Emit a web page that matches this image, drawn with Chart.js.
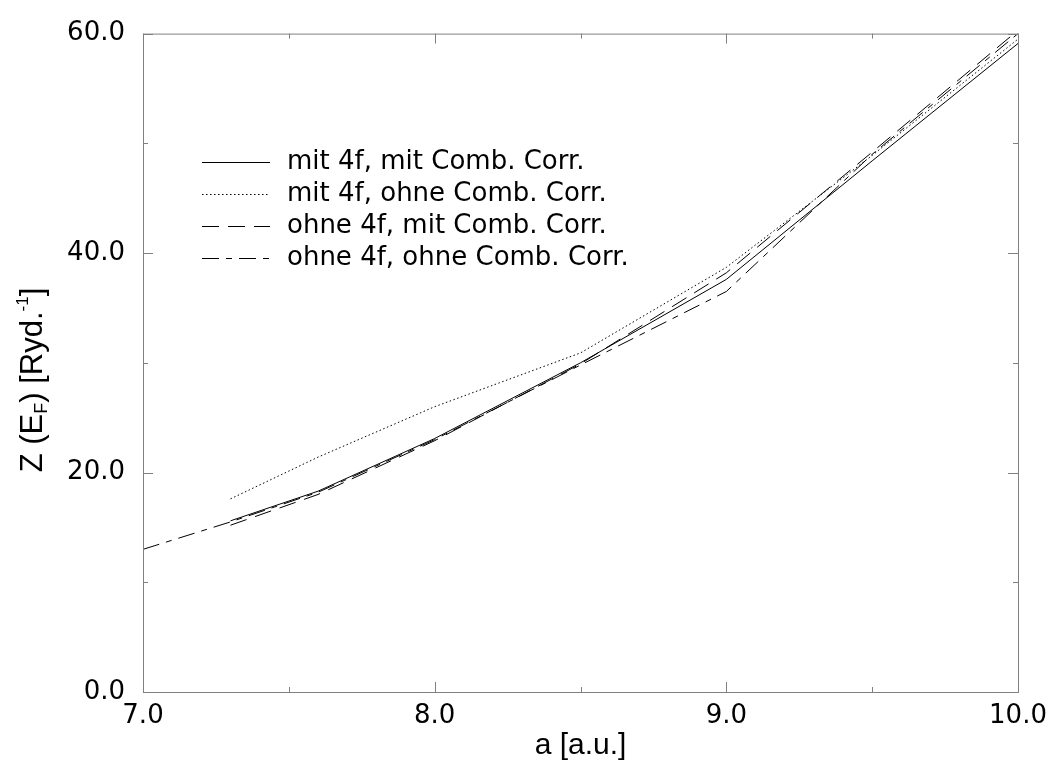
<!DOCTYPE html>
<html>
<head>
<meta charset="utf-8">
<script src="https://cdn.jsdelivr.net/npm/chart.js@4/dist/chart.umd.min.js"></script>
<style>
  html, body { margin: 0; padding: 0; background: #fff; }
  #grafica { display: block; }
</style>
</head>
<body>
<canvas id="grafica" width="1049" height="767"></canvas>
<script>
// Densidad de estados en el nivel de Fermi Z(E_F) contra el parametro de red a

// Parametro de red (a.u.)
var aComun = [7.3, 7.6, 8.0, 8.5, 9.0, 9.5, 10.0];
var aOhneOhne = [7.0, 7.3, 7.6, 8.0, 8.5, 9.0, 9.5, 10.0];

// Z(E_F) en Ryd.^-1
var zMitMit = [15.6, 18.3, 23.1, 30.0, 37.6, 48.4, 59.1];
var zMitOhne = [17.6, 21.4, 26.0, 30.9, 38.7, 48.9, 59.5];
var zOhneMit = [15.2, 18.0, 22.9, 29.9, 38.2, 49.2, 60.3];
var zOhneOhne = [13.0, 15.5, 18.2, 23.0, 29.8, 36.5, 49.0, 60.0];

var nombres = [
    'mit 4f, mit Comb. Corr.',
    'mit 4f, ohne Comb. Corr.',
    'ohne 4f, mit Comb. Corr.',
    'ohne 4f, ohne Comb. Corr.'
];

// Marcas de los ejes
var xTicks = [7, 8, 9, 10];
var xMenores = [7.5, 8.5, 9.5];
var yTicks = [0, 20, 40, 60];
var yMenores = [10, 30, 50];

function puntos(xs, ys) {
    return xs.map(function (x, i) { return {x: x, y: ys[i]}; });
}

function serie(label, xs, ys, dash) {
    return {
        label: label,
        data: puntos(xs, ys),
        borderColor: '#000',
        borderWidth: 1,
        borderDash: dash,
        pointRadius: 0,
        tension: 0,
        fill: false
    };
}

// Marco con marcas hacia adentro en los cuatro lados
var marco = {
    id: 'marco',
    afterDatasetsDraw: function (chart) {
        var ctx = chart.ctx;
        var a = chart.chartArea;
        var sx = chart.scales.x, sy = chart.scales.y;
        ctx.save();
        ctx.strokeStyle = '#808080';
        ctx.lineWidth = 1;
        ctx.strokeRect(a.left + 0.5, a.top + 0.5, a.right - a.left, a.bottom - a.top);
        ctx.beginPath();
        function marcaX(v, l) {
            var px = Math.round(sx.getPixelForValue(v)) + 0.5;
            ctx.moveTo(px, a.bottom); ctx.lineTo(px, a.bottom - l);
            ctx.moveTo(px, a.top); ctx.lineTo(px, a.top + l);
        }
        function marcaY(v, l) {
            var py = Math.round(sy.getPixelForValue(v)) + 0.5;
            ctx.moveTo(a.left, py); ctx.lineTo(a.left + l, py);
            ctx.moveTo(a.right, py); ctx.lineTo(a.right - l, py);
        }
        xTicks.forEach(function (v) { marcaX(v, 10); });
        xMenores.forEach(function (v) { marcaX(v, 5); });
        yTicks.forEach(function (v) { marcaY(v, 10); });
        yMenores.forEach(function (v) { marcaY(v, 5); });
        ctx.stroke();
        ctx.restore();
    }
};

// Leyenda dentro del area y titulo del eje Y (con subindice y superindice)
var textos = {
    id: 'textos',
    afterDraw: function (chart) {
        var ctx = chart.ctx;
        ctx.save();
        ctx.fillStyle = '#000';
        ctx.strokeStyle = '#000';
        ctx.lineWidth = 1;
        ctx.font = '26px "DejaVu Sans"';
        ctx.textBaseline = 'middle';
        var filas = [162, 194, 226, 258];
        chart.data.datasets.forEach(function (ds, i) {
            var y = filas[i] + 0.5;
            ctx.setLineDash(ds.borderDash || []);
            ctx.beginPath();
            ctx.moveTo(202, y);
            ctx.lineTo(270, y);
            ctx.stroke();
            ctx.setLineDash([]);
            ctx.fillText(ds.label, 287, filas[i]);
        });

        // Z (E_F) [Ryd.^-1]
        var partes = [
            {t: 'Z (E', f: 31, d: 0},
            {t: 'F', f: 18, d: 5},
            {t: ') [Ryd.', f: 31, d: 0},
            {t: '-1', f: 17, d: -14},
            {t: ']', f: 31, d: 0}
        ];
        var total = 0;
        partes.forEach(function (p) {
            ctx.font = p.f + 'px "Liberation Sans"';
            p.w = ctx.measureText(p.t).width;
            total += p.w;
        });
        ctx.translate(42, 380);
        ctx.rotate(-Math.PI / 2);
        ctx.textBaseline = 'alphabetic';
        var x = -total / 2;
        partes.forEach(function (p) {
            ctx.font = p.f + 'px "Liberation Sans"';
            ctx.fillText(p.t, x, p.d);
            x += p.w;
        });
        ctx.restore();
    }
};

var ctx = document.getElementById('grafica').getContext('2d');
var graf = new Chart(ctx, {
    type: 'line',
    data: {
        datasets: [
            serie(nombres[0], aComun, zMitMit, []),
            serie(nombres[1], aComun, zMitOhne, [1.5, 2.5]),
            serie(nombres[2], aComun, zOhneMit, [17, 9]),
            serie(nombres[3], aOhneOhne, zOhneOhne, [17, 7, 6, 7])
        ]
    },
    options: {
        responsive: false,
        animation: false,
        layout: {padding: {left: 0, right: 31, top: 29, bottom: 0}},
        plugins: {
            legend: {display: false},
            tooltip: {enabled: false}
        },
        scales: {
            x: {
                type: 'linear',
                min: 7,
                max: 10,
                grid: {display: false, drawTicks: false},
                border: {display: false},
                afterBuildTicks: function (s) {
                    s.ticks = xTicks.map(function (v) { return {value: v}; });
                },
                afterFit: function (s) {
                    s.height = 75;
                    s.paddingLeft = 0;
                    s.paddingRight = 0;
                },
                ticks: {
                    color: '#000',
                    padding: 9,
                    maxRotation: 0,
                    font: {family: 'DejaVu Sans', size: 26},
                    callback: function (v) { return Number(v).toFixed(1); }
                },
                title: {
                    display: true,
                    text: 'a [a.u.]',
                    color: '#000',
                    padding: {top: 0, bottom: 3},
                    font: {family: 'Liberation Sans', size: 30}
                }
            },
            y: {
                min: 0,
                max: 60,
                grid: {display: false, drawTicks: false},
                border: {display: false},
                afterBuildTicks: function (s) {
                    s.ticks = yTicks.map(function (v) { return {value: v}; });
                },
                afterFit: function (s) {
                    s.width = 143;
                },
                ticks: {
                    color: '#000',
                    padding: 18,
                    font: {family: 'DejaVu Sans', size: 26},
                    callback: function (v) { return Number(v).toFixed(1); }
                }
            }
        }
    },
    plugins: [marco, textos]
});
</script>
</body>
</html>
